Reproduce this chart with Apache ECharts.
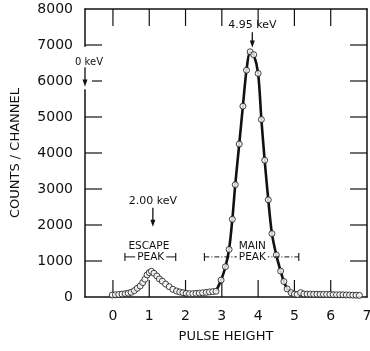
<!DOCTYPE html>
<html><head><meta charset="utf-8">
<script src="https://cdn.jsdelivr.net/npm/echarts@6/dist/echarts.min.js"></script>
<style>html,body{margin:0;padding:0;background:#fff}#c{width:370px;height:351px}</style>
</head><body><div id="c"></div>
<script>
// Pulse height (x) and counts per channel (y)
var pulseHeight = [-0.02,0.07,0.16,0.25,0.34,0.42,0.50,0.59,0.67,0.75,
  0.82,0.88,0.94,1.00,1.06,1.13,1.21,1.28,1.36,1.45,
  1.55,1.65,1.75,1.84,1.93,2.02,2.11,2.20,2.29,2.38,
  2.47,2.57,2.66,2.75,2.84,
  2.98,3.10,3.20,3.29,3.37,3.48,3.58,3.68,3.78,3.88,
  4.00,4.09,4.18,4.28,4.38,4.50,4.62,4.71,4.80,4.91,
  5.00,5.08,5.17,5.26,5.35,5.44,5.53,5.62,5.71,5.80,
  5.89,5.98,6.07,6.16,6.25,6.34,6.43,6.52,6.61,6.70,6.79];
var counts = [55,62,72,82,92,105,130,176,242,306,
  400,493,613,677,716,660,585,501,440,360,
  287,214,167,139,120,103,92,92,100,108,
  118,128,140,150,160,
  470,840,1320,2160,3120,4250,5300,6300,6810,6730,
  6210,4930,3800,2700,1760,1170,720,430,225,120,
  80,70,120,85,80,80,78,78,75,75,
  72,70,65,62,62,60,58,55,52,50,45];
var xTickLabels = [0,1,2,3,4,5,6,7];
var xTickMarks = [0,1,2,3,4,5,6];
var yTickMarks = [1000,2000,3000,4000,5000,6000,7000];
// main-peak range drawn with the solid curve
var mainPeakRange = [2.84, 4.91];

var FONT = 'DejaVu Sans';
var INK = '#111';
var points = pulseHeight.map(function(x,i){return [x, counts[i]];});
var curve = points.filter(function(p){return p[0] >= mainPeakRange[0] && p[0] <= mainPeakRange[1];});

var chart = echarts.init(document.getElementById('c'), null, {renderer:'canvas'});
function axisLine(){return {show:true, onZero:false, lineStyle:{color:INK, width:1.5}};}
var xmin = -0.77, xmax = 7, ymin = 0, ymax = 8000;
chart.setOption({
  animation:false,
  backgroundColor:'#fff',
  grid:{left:85, right:3, top:9, bottom:54, containLabel:false, outerBoundsMode:'none'},
  xAxis:[{
    type:'value', position:'bottom', min:xmin, max:xmax,
    axisLine:axisLine(), axisTick:{show:false},
    axisLabel:{show:true, customValues:xTickLabels, margin:12, fontSize:14, color:INK, fontFamily:FONT},
    splitLine:{show:false},
    name:'PULSE HEIGHT', nameLocation:'middle', nameGap:33,
    nameTextStyle:{fontSize:13, color:INK, fontFamily:FONT}
  },{
    type:'value', position:'top', min:xmin, max:xmax,
    axisLine:axisLine(), axisTick:{show:false},
    axisLabel:{show:false}, splitLine:{show:false}
  }],
  yAxis:[{
    type:'value', position:'left', min:ymin, max:ymax, interval:1000,
    axisLine:axisLine(), axisTick:{show:false},
    axisLabel:{margin:12, fontSize:14, color:INK, fontFamily:FONT, formatter:function(v){return String(v);}},
    splitLine:{show:false},
    name:'COUNTS / CHANNEL', nameLocation:'middle', nameGap:63,
    nameTextStyle:{fontSize:13, color:INK, fontFamily:FONT}
  },{
    type:'value', position:'right', min:ymin, max:ymax, interval:1000,
    axisLine:axisLine(), axisTick:{show:false},
    axisLabel:{show:false}, splitLine:{show:false}
  }],
  series:[{
    type:'line', data:curve, smooth:0.3, showSymbol:false, symbol:'none',
    lineStyle:{color:INK, width:2.6}, z:2
  },{
    type:'scatter', data:points, symbol:'circle', symbolSize:6,
    itemStyle:{color:'#fff', borderColor:INK, borderWidth:1}, z:3
  }]
});

function px(x,y){return chart.convertToPixel({xAxisIndex:0,yAxisIndex:0},[x,y]);}
function seg(a,b,w,z,dash){return {type:'line',z:z,shape:{x1:a[0],y1:a[1],x2:b[0],y2:b[1]},style:{stroke:INK,lineWidth:w,lineDash:dash||null}};}
function text(x,y,s,size){var p=px(x,y);return {type:'text',x:p[0],y:p[1],z:10,
  style:{text:s,fill:INK,font:size+'px "'+FONT+'"',align:'center',verticalAlign:'middle'}};}
function textBg(x,y,s,size){var t=text(x,y,s,size);t.style.backgroundColor='#fff';t.style.padding=[0,2];return t;}
function arrow(x,y1,y2){var a=px(x,y1),b=px(x,y2);
  return [seg(a,[b[0],b[1]-5],1.3,10),
          {type:'polygon',z:10,shape:{points:[[b[0]-2.5,b[1]-7],[b[0]+2.5,b[1]-7],[b[0],b[1]]]},style:{fill:INK}}];}
function bracket(x1,x2,y,dash){var a=px(x1,y),b=px(x2,y);
  return [seg(a,b,1,9,dash),
          seg([a[0],a[1]-4],[a[0],a[1]+4],1.1,9),
          seg([b[0],b[1]-4],[b[0],b[1]+4],1.1,9)];}

var TICK = 17;
var g = [];
// inward tick marks on all four sides, placed through the axis scales
xTickMarks.forEach(function(v){
  var b = px(v,ymin), t = px(v,ymax);
  g.push(seg(b,[b[0],b[1]-TICK],1.2,1));
  g.push(seg(t,[t[0],t[1]+TICK],1.2,1));
});
yTickMarks.forEach(function(v){
  var l = px(xmin,v), r = px(xmax,v);
  g.push(seg(l,[l[0]+TICK,l[1]],1.2,1));
  g.push(seg(r,[r[0]-TICK,r[1]],1.2,1));
});
// gap in the left axis for the 0 keV marker
var gTop = px(xmin,6950), gBot = px(xmin,5770);
g.push({type:'rect',z:8,shape:{x:gTop[0]-5,y:gTop[1],width:12,height:gBot[1]-gTop[1]},style:{fill:'#fff'}});
g.push(text(-0.66,6520,'0 keV',10));
g = g.concat(arrow(xmin,6380,5850));
g.push(text(3.84,7550,'4.95 keV',11));
g = g.concat(arrow(3.84,7355,6930));
g.push(text(1.10,2650,'2.00 keV',11));
g = g.concat(arrow(1.10,2480,1950));
g = g.concat(bracket(0.33,1.73,1114));
g.push(text(0.99,1421,'ESCAPE',10.5));
g.push(textBg(1.04,1114,'PEAK',10.5));
g = g.concat(bracket(2.52,5.12,1114,[5,2,1,2]));
g.push(text(3.84,1421,'MAIN',10.5));
g.push(textBg(3.84,1114,'PEAK',10.5));
chart.setOption({graphic:g});
</script></body></html>
